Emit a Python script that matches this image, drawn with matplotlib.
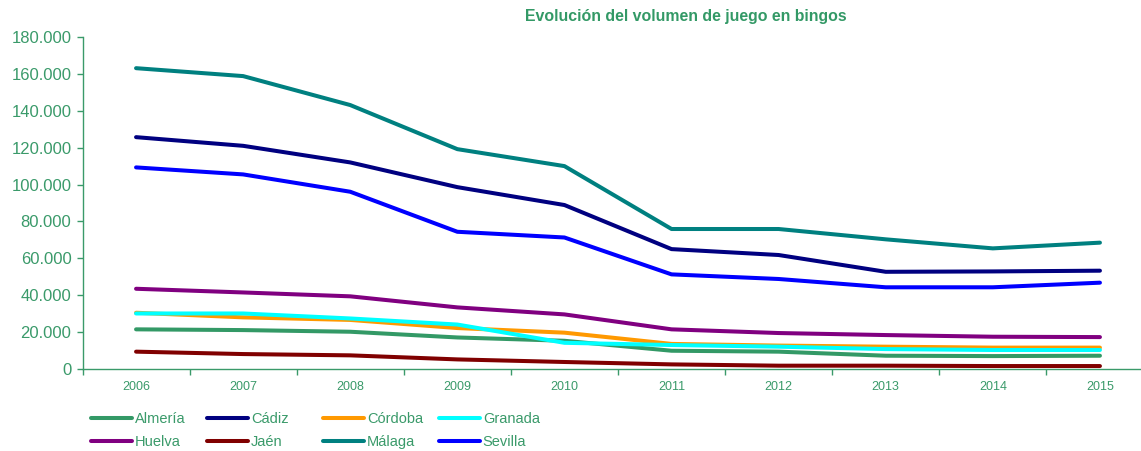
import matplotlib
matplotlib.use("Agg")
import matplotlib.pyplot as plt
from matplotlib.ticker import FuncFormatter, FixedLocator

plt.rcParams['font.family'] = ['Liberation Sans', 'DejaVu Sans']

years = ['2006', '2007', '2008', '2009', '2010', '2011', '2012', '2013', '2014', '2015']
almeria = [21500, 21100, 20200, 17100, 15300, 9900, 9400, 7200, 7000, 7200]
cadiz = [125700, 121000, 112000, 98600, 88900, 65000, 61800, 52700, 52900, 53300]
cordoba = [30500, 28000, 26600, 22200, 19700, 13600, 12700, 12100, 11600, 11600]
granada = [30100, 30100, 27400, 24100, 14200, 13000, 12100, 10800, 10300, 10300]
huelva = [43500, 41500, 39400, 33400, 29600, 21500, 19500, 18400, 17500, 17300]
jaen = [9400, 8100, 7400, 5200, 3800, 2500, 1800, 1800, 1600, 1600]
malaga = [163100, 158800, 143100, 119200, 110000, 75900, 75900, 70300, 65400, 68500]
sevilla = [109300, 105500, 96100, 74400, 71300, 51300, 48800, 44300, 44300, 46800]

series = [
    ('Almería', almeria, '#339966'),
    ('Cádiz', cadiz, '#000080'),
    ('Córdoba', cordoba, '#FF9900'),
    ('Granada', granada, '#00FFFF'),
    ('Huelva', huelva, '#800080'),
    ('Jaén', jaen, '#800000'),
    ('Málaga', malaga, '#008080'),
    ('Sevilla', sevilla, '#0000FF'),
]

green = '#3A9A6A'
fig = plt.figure(figsize=(11.41, 4.51), dpi=100)
ax = fig.add_axes([82.5 / 1141, (451 - 369) / 451, (1153.5 - 82.5) / 1141, (369 - 37) / 451])

x = list(range(len(years)))
handles = []
for name, vals, col in series:
    h, = ax.plot(x, vals, color=col, lw=2.9, label=name, solid_capstyle='round')
    handles.append(h)

ax.set_xlim(-0.5, len(years) - 0.5)
ax.set_ylim(0, 180000)
ax.set_yticks(range(0, 180001, 20000))
ax.yaxis.set_major_formatter(FuncFormatter(lambda v, p: f"{int(v):,}".replace(',', '.')))
ax.set_xticks(x)
ax.set_xticklabels(years)
ax.xaxis.set_minor_locator(FixedLocator([i - 0.5 for i in range(len(years) + 1)]))
ax.tick_params(axis='x', which='major', length=0, labelsize=9, colors=green, pad=9)
ax.tick_params(axis='x', which='minor', length=4, direction='out', color=green, width=1)
ax.tick_params(axis='y', which='major', length=4, direction='out', color=green, width=1,
               labelsize=12, labelcolor=green, pad=4)
for s in ['top', 'right']:
    ax.spines[s].set_visible(False)
for s in ['left', 'bottom']:
    ax.spines[s].set_color(green)
    ax.spines[s].set_linewidth(1)

fig.text(686 / 1141, 1 - 16 / 451, 'Evolución del volumen de juego en bingos', ha='center', va='center',
         fontsize=11.4, fontweight='bold', color='#339966')

# legend: 4 columns, fixed spacing, row-wise order
col_x = [91, 207, 323, 439]
for c in range(4):
    hs = [handles[c], handles[c + 4]]
    leg = fig.legend(handles=hs, loc='upper left', bbox_to_anchor=(col_x[c] / 1141, 1 - 412 / 451),
                     frameon=False, fontsize=10.5, handlelength=2.8, handletextpad=0.2,
                     labelspacing=0.64, borderaxespad=0, borderpad=0)
    for t in leg.get_texts():
        t.set_color(green)

fig.savefig('out.png', dpi=100)
